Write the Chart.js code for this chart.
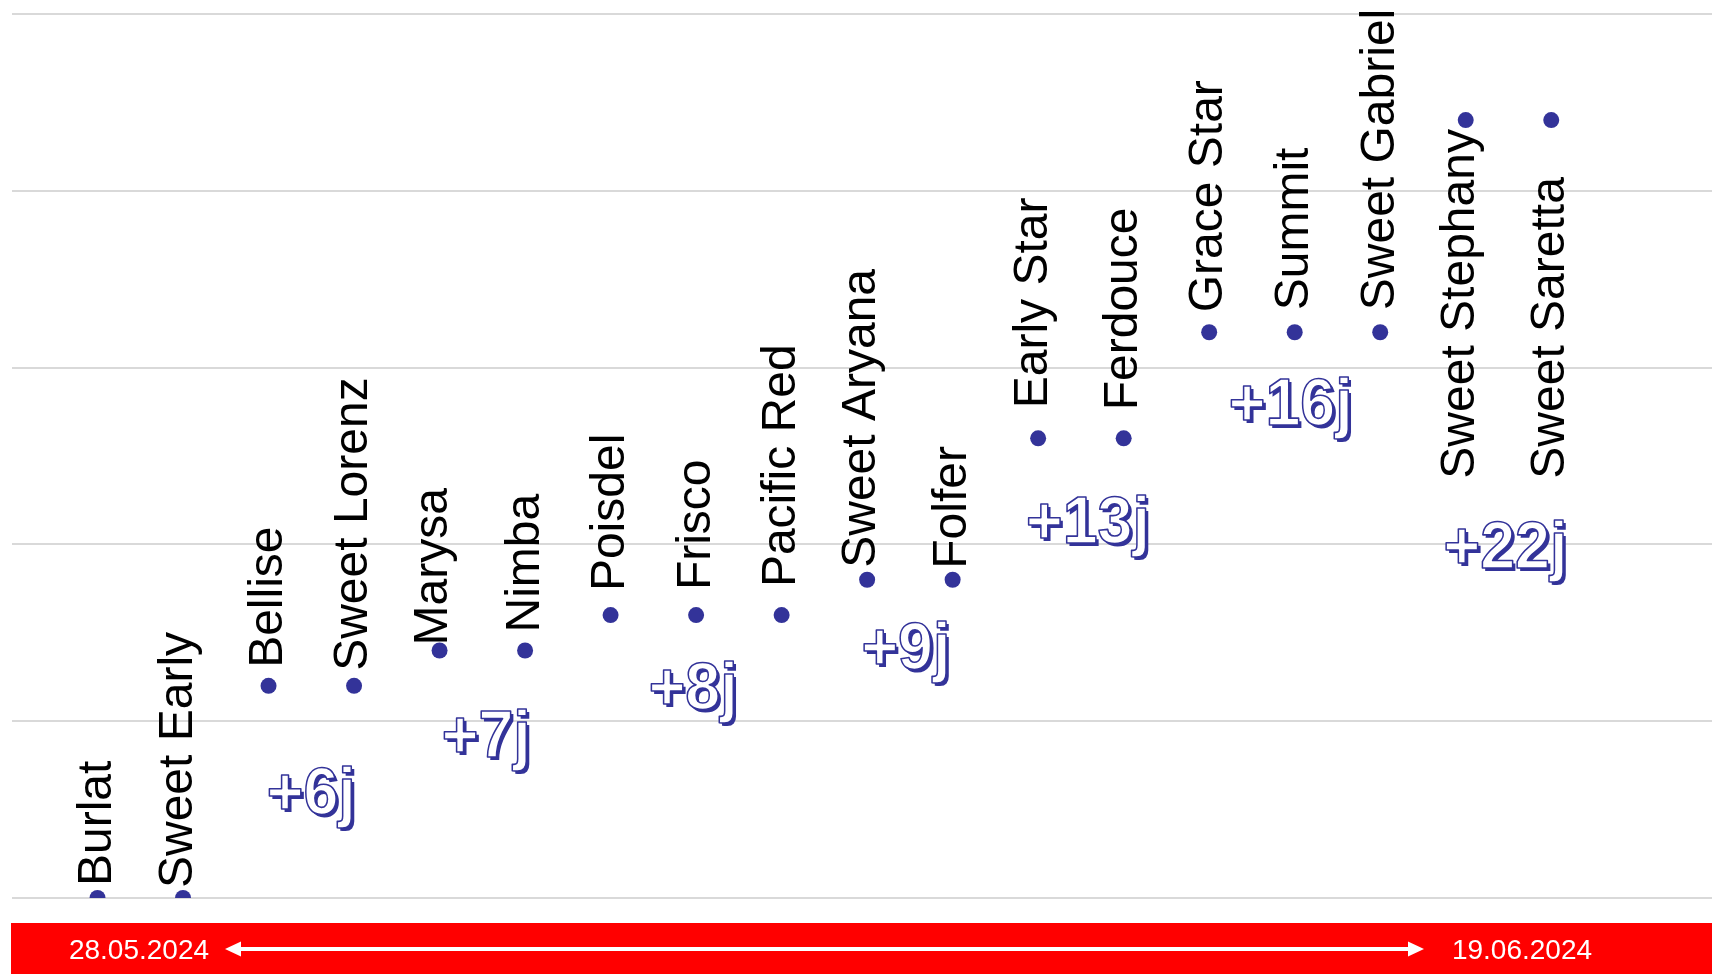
<!DOCTYPE html>
<html>
<head>
<meta charset="utf-8">
<script src="https://cdn.jsdelivr.net/npm/chart.js@4.4.1/dist/chart.umd.min.js"></script>
<style>
  html, body { margin: 0; padding: 0; background: #fff; }
  #wrap { width: 1712px; height: 974px; }
</style>
</head>
<body>
<div id="wrap"><canvas id="Recolte"></canvas></div>
<script>
// varietes et decalage de recolte (jours apres Burlat)
var varietes = ["Burlat", "Sweet Early", "Bellise", "Sweet Lorenz", "Marysa", "Nimba",
    "Poisdel", "Frisco", "Pacific Red", "Sweet Aryana", "Folfer", "Early Star",
    "Ferdouce", "Grace Star", "Summit", "Sweet Gabriel", "Sweet Stephany", "Sweet Saretta"];
var decalage = [0, 0, 6, 6, 7, 7, 8, 8, 8, 9, 9, 13, 13, 16, 16, 16, 22, 22];
var jourTicks = [0, 5, 10, 15, 20, 25];
var dateDebut = "28.05.2024";
var dateFin = "19.06.2024";

var BLEU = "#333399";

// groupes de varietes ayant le meme decalage
function groupes() {
    var g = [];
    decalage.forEach(function (v, i) {
        if (g.length && g[g.length - 1].v === v) g[g.length - 1].idx.push(i);
        else g.push({ v: v, idx: [i] });
    });
    return g;
}

var etiquettes = {
    id: "etiquettes",
    beforeDatasetsDraw: function (chart) {
        var ctx = chart.ctx;
        // bandeau rouge avec les dates
        ctx.save();
        ctx.fillStyle = "#ff0000";
        ctx.fillRect(11, 923, chart.width - 11, chart.height - 923);
        ctx.fillStyle = "#fff";
        ctx.font = "28px 'Liberation Sans', Arial, sans-serif";
        ctx.textAlign = "center";
        ctx.textBaseline = "alphabetic";
        ctx.fillText(dateDebut, 139, 959);
        ctx.fillText(dateFin, 1522, 959);
        ctx.strokeStyle = "#fff";
        ctx.lineWidth = 4;
        ctx.beginPath();
        ctx.moveTo(238, 949);
        ctx.lineTo(1411, 949);
        ctx.stroke();
        ctx.beginPath();
        ctx.moveTo(225, 949); ctx.lineTo(241, 941.5); ctx.lineTo(241, 956.5); ctx.closePath();
        ctx.moveTo(1424, 949); ctx.lineTo(1408, 941.5); ctx.lineTo(1408, 956.5); ctx.closePath();
        ctx.fill();
        ctx.restore();
    },
    afterDatasetsDraw: function (chart) {
        var ctx = chart.ctx;
        var pts = chart.getDatasetMeta(0).data;
        // ecart visible entre le point et le debut du nom
        var ecart = [15, 12, 21, 17, 8, 21, 27, 28, 31, 14, 14, 33, 31, 22, 24, 24, 9, 9];
        var belowFrom = 16;

        // noms des varietes, verticaux
        ctx.save();
        ctx.font = "48px 'Liberation Sans', Arial, sans-serif";
        ctx.fillStyle = "#000";
        ctx.textBaseline = "alphabetic";
        var maxBelow = 0;
        for (var k = belowFrom; k < varietes.length; k++) {
            maxBelow = Math.max(maxBelow, ctx.measureText(varietes[k]).width);
        }
        varietes.forEach(function (nom, i) {
            var m = ctx.measureText(nom);
            var b = (m.actualBoundingBoxAscent - m.actualBoundingBoxDescent) / 2 - 4;
            ctx.save();
            ctx.translate(pts[i].x, pts[i].y);
            ctx.rotate(-Math.PI / 2);
            ctx.textAlign = "left";
            if (i >= belowFrom) ctx.fillText(nom, -(ecart[i] + maxBelow), b);
            else ctx.fillText(nom, ecart[i] + m.actualBoundingBoxLeft, b);
            ctx.restore();
        });
        ctx.restore();

        // badges "+Nj"
        var dx = [0, 4, -3, -4, 7, -4, -3];
        var dy = [128, 107, 94, 89, 105, 93, 448];
        var n = 0;
        ctx.save();
        ctx.font = "bold 66px 'Liberation Sans', Arial, sans-serif";
        ctx.textAlign = "center";
        ctx.textBaseline = "alphabetic";
        ctx.lineJoin = "round";
        groupes().forEach(function (g) {
            if (g.v <= 0) return;
            var x = 0;
            g.idx.forEach(function (i) { x += pts[i].x; });
            x = x / g.idx.length + dx[n];
            var y = pts[g.idx[0]].y + dy[n];
            var txt = "+" + g.v + "j";
            ctx.save();
            ctx.translate(x, y);
            ctx.scale(0.95, 1);
            ctx.fillStyle = BLEU;
            ctx.fillText(txt, 3, 3);
            ctx.fillStyle = "#fff";
            ctx.fillText(txt, 0, 0);
            ctx.strokeStyle = BLEU;
            ctx.lineWidth = 1.6;
            ctx.strokeText(txt, 0, 0);
            ctx.restore();
            n++;
        });
        ctx.restore();
    }
};

new Chart(document.getElementById("Recolte"), {
    type: "scatter",
    data: {
        datasets: [
            {
                label: "Decalage",
                data: decalage.map(function (v, i) { return { x: i, y: v }; }),
                backgroundColor: BLEU,
                borderWidth: 0,
                pointRadius: 8,
                pointHoverRadius: 8
            }
        ]
    },
    options: {
        responsive: true,
        maintainAspectRatio: false,
        animation: false,
        devicePixelRatio: 1,
        layout: { autoPadding: false, padding: { left: 12, right: 0, top: 14, bottom: 76 } },
        scales: {
            x: { type: "linear", min: -1, max: 18.88, display: false },
            y: {
                min: 0,
                max: 25,
                afterBuildTicks: function (axis) {
                    axis.ticks = jourTicks.map(function (v) { return { value: v }; });
                },
                ticks: { display: false },
                grid: { color: "#d9d9d9", lineWidth: 2, drawTicks: false },
                border: { display: false }
            }
        },
        plugins: {
            legend: { display: false },
            tooltip: { enabled: false }
        }
    },
    plugins: [etiquettes]
});
</script>
</body>
</html>
